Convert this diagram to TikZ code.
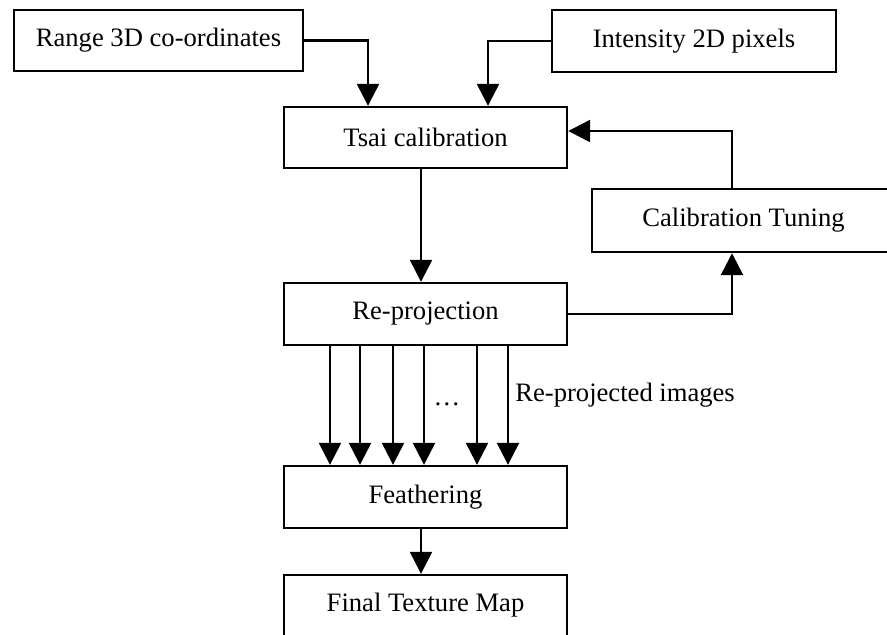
\documentclass[tikz,border=0pt]{standalone}
\usepackage{fontspec}
\setmainfont{Liberation Serif}
\usetikzlibrary{arrows.meta}
\tikzset{
  blk/.style={draw,line width=1.2pt,minimum width=141.5pt,minimum height=30.5pt,inner sep=0pt,font=\fontsize{13.3}{16}\selectfont},
  arr/.style={line width=1.2pt,-{Triangle[length=11pt,width=11pt]}},
}
\begin{document}
\begin{tikzpicture}[x=0.5pt,y=-0.5pt]
\clip(0,0)rectangle(887,634);
\node[blk,minimum width=144.5pt](range)at(158.5,40.5){Range 3D co-ordinates};
\node[blk,minimum width=142pt,minimum height=31pt](inten)at(694,41){Intensity 2D pixels};
\node[blk](tsai)at(425.5,137.5){Tsai calibration};
\node[blk,minimum width=151.5pt,minimum height=31.5pt](cal)at(743.5,220.5){Calibration Tuning};
\node[blk,minimum height=31pt](reproj)at(425.5,314){Re-projection};
\node[blk,minimum height=31pt](feather)at(425.5,497){Feathering};
\node[blk](final)at(425.5,605.5){Final Texture Map};
\draw[arr](range.east)-|([xshift=-28.75pt]tsai.north);
\draw[arr](inten.west)-|([xshift=31.25pt]tsai.north);
\draw[arr]([xshift=-2.25pt]tsai.south)--([xshift=-2.25pt]reproj.north);
\draw[arr]([xshift=-5.75pt]cal.north)|-([yshift=3.25pt]tsai.east);
\draw[arr](reproj.east)-|([xshift=-5.75pt]cal.south);
\foreach \x in {330,360,393,424,477,508}
  \draw[arr](\x,0|-reproj.south)--(\x,0|-feather.north);
\node[font=\fontsize{13.3}{16}\selectfont](dots)at(447,404){\dots};
\node[font=\fontsize{13.3}{16}\selectfont,anchor=west,inner sep=0pt](lbl)at(515,395){Re-projected images};
\draw[arr]([xshift=-2.25pt]feather.south)--([xshift=-2.25pt]final.north);
\end{tikzpicture}
\end{document}
